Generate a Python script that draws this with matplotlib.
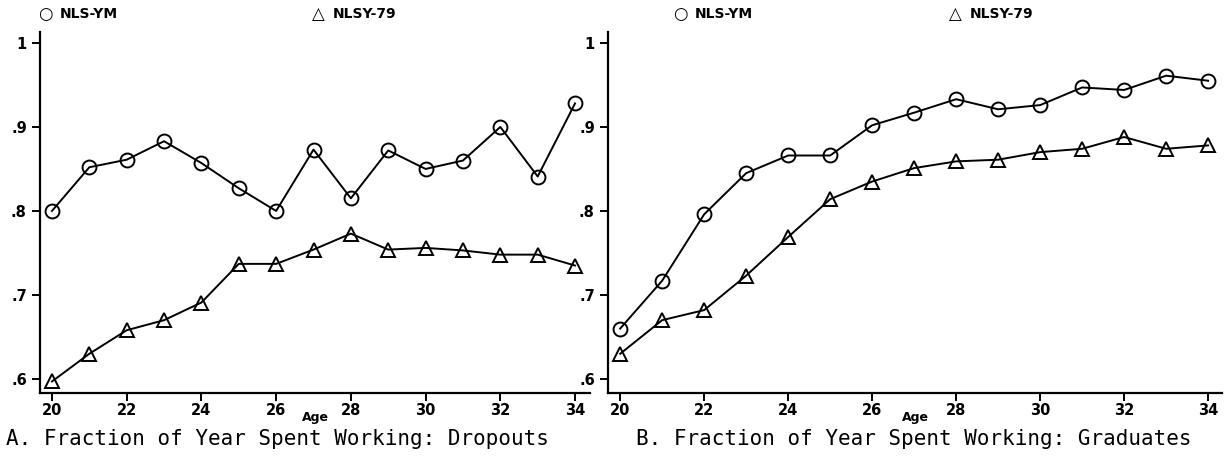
import matplotlib
matplotlib.use("Agg")
import matplotlib.pyplot as plt

ages = list(range(20, 35))

# A. Dropouts
drop_nlsym = [0.800, 0.852, 0.861, 0.883, 0.857, 0.827, 0.800, 0.873,
              0.815, 0.872, 0.850, 0.860, 0.900, 0.841, 0.928]
drop_nlsy79 = [0.597, 0.630, 0.658, 0.670, 0.691, 0.737, 0.737, 0.754,
               0.773, 0.754, 0.756, 0.753, 0.748, 0.748, 0.735]

# B. Graduates
grad_nlsym = [0.660, 0.717, 0.796, 0.845, 0.866, 0.866, 0.902, 0.917,
              0.933, 0.921, 0.926, 0.947, 0.944, 0.961, 0.955]
grad_nlsy79 = [0.630, 0.670, 0.682, 0.723, 0.769, 0.814, 0.835, 0.851,
               0.859, 0.861, 0.870, 0.874, 0.888, 0.874, 0.878]

yticks = [0.6, 0.7, 0.8, 0.9, 1.0]
ytick_labels = [".6", ".7", ".8", ".9", "1"]
xticks = list(range(20, 35, 2))

titles = ["A. Fraction of Year Spent Working: Dropouts",
          "B. Fraction of Year Spent Working: Graduates"]

W, H = 1227, 459
fig = plt.figure(figsize=(W / 100, H / 100), dpi=100)

# axes span (px), xlim, legend x positions (circle, triangle), title x
panels = [
    (drop_nlsym, drop_nlsy79, (40, 590), (19.68, 34.4), (45, 318), 6),
    (grad_nlsym, grad_nlsy79, (608, 1222), (19.71, 34.33), (680, 955), 636),
]

for i, (ym, y79, (x0, x1), xlim, (lc, lt), tx) in enumerate(panels):
    ax = fig.add_axes([x0 / W, 1 - 393 / H, (x1 - x0) / W, 361 / H])
    ax.plot(ages, ym, color="black", lw=1.4, marker="o", ms=10,
            mfc="none", mec="black", mew=1.4)
    ax.plot(ages, y79, color="black", lw=1.4, marker="^", ms=10,
            mfc="none", mec="black", mew=1.4)
    ax.set_xlim(*xlim)
    ax.set_ylim(0.5833, 1.013)
    ax.set_xticks(xticks)
    ax.set_yticks(yticks)
    ax.set_yticklabels(ytick_labels)
    for s in ["top", "right"]:
        ax.spines[s].set_visible(False)
    for s in ["left", "bottom"]:
        ax.spines[s].set_linewidth(1.6)
    ax.tick_params(direction="out", length=6, width=1.4, labelsize=10.5)
    ax.tick_params(axis="x", pad=1)
    for lab in ax.get_xticklabels() + ax.get_yticklabels():
        lab.set_fontweight("bold")
    ax.set_xlabel("Age", fontsize=9, fontweight="bold", va="center")
    ax.xaxis.set_label_coords(0.5, -(418 - 393) / 361)

    # legend row above the plot
    ly = 1 - 14 / H
    fig.text(lc / W, ly, "\u25cb", fontsize=12, fontweight="bold",
             va="center", ha="center")
    fig.text((lc + 15) / W, ly, "NLS-YM", fontsize=10,
             fontweight="bold", va="center", ha="left")
    fig.text(lt / W, ly, "\u25b3", fontsize=12, fontweight="bold",
             va="center", ha="center")
    fig.text((lt + 15) / W, ly, "NLSY-79", fontsize=10,
             fontweight="bold", va="center", ha="left")

    fig.text(tx / W, 1 - 439 / H, titles[i],
             fontsize=15, family="DejaVu Sans Mono", va="center", ha="left")

fig.savefig("out.png", dpi=100)
